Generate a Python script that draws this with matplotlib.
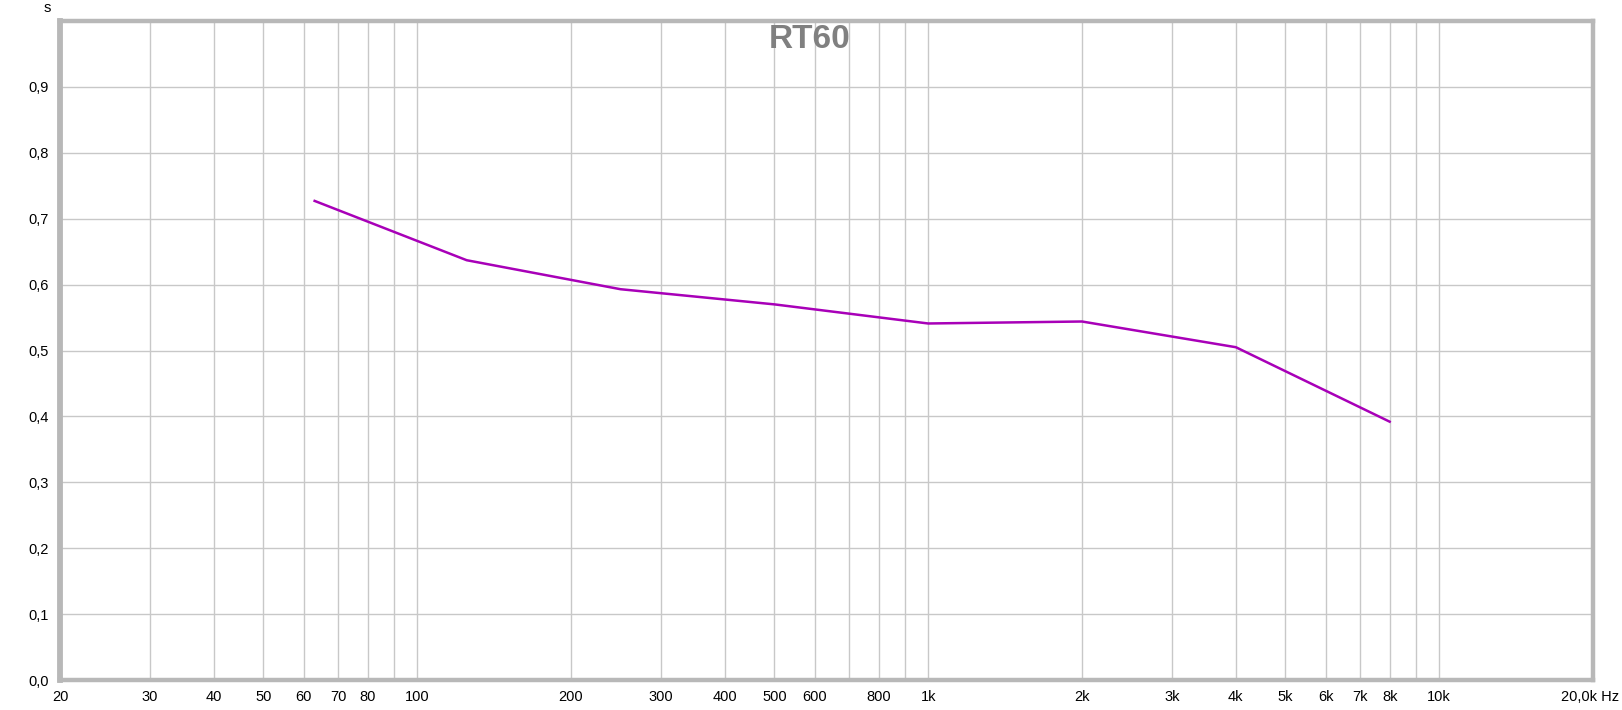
import matplotlib
matplotlib.use("Agg")
import matplotlib.pyplot as plt

plt.rcParams['font.family'] = ['Liberation Sans', 'DejaVu Sans']

freqs = [63, 125, 250, 500, 1000, 2000, 4000, 8000]
rt60 = [0.727, 0.637, 0.593, 0.570, 0.541, 0.544, 0.505, 0.392]

grid_freqs = [30, 40, 50, 60, 70, 80, 90, 100, 200, 300, 400, 500, 600, 700, 800, 900,
              1000, 2000, 3000, 4000, 5000, 6000, 7000, 8000, 9000, 10000]
label_freqs = [20, 30, 40, 50, 60, 70, 80, 100, 200, 300, 400, 500, 600, 800,
               1000, 2000, 3000, 4000, 5000, 6000, 7000, 8000, 10000]
label_texts = ["20", "30", "40", "50", "60", "70", "80", "100", "200", "300", "400", "500",
               "600", "800", "1k", "2k", "3k", "4k", "5k", "6k", "7k", "8k", "10k"]
y_ticks = [0.0, 0.1, 0.2, 0.3, 0.4, 0.5, 0.6, 0.7, 0.8, 0.9]
y_labels = ["0,0", "0,1", "0,2", "0,3", "0,4", "0,5", "0,6", "0,7", "0,8", "0,9"]

W, H = 1622, 710
fig = plt.figure(figsize=(W / 100, H / 100), dpi=100)
ax = fig.add_axes([60 / W, (H - 680) / H, (1593 - 60) / W, (680 - 21) / H])

ax.set_xscale('log')
ax.set_xlim(20, 20000)
ax.set_ylim(0, 1.0)

for f in grid_freqs:
    ax.axvline(f, color='#c8c8c8', lw=1.0, zorder=1)
for y in y_ticks[1:]:
    ax.axhline(y, color='#c8c8c8', lw=1.0, zorder=1)

ax.plot(freqs, rt60, color='#a800b8', lw=1.8, zorder=3, solid_joinstyle='round')

ax.set_xticks(label_freqs)
ax.set_xticklabels(label_texts)
ax.minorticks_off()
ax.set_yticks(y_ticks)
ax.set_yticklabels(y_labels)
ax.tick_params(axis='both', length=0, labelsize=10.5, colors='#000000')
ax.tick_params(axis='x', pad=7)
ax.tick_params(axis='y', pad=8)

for name, s in ax.spines.items():
    s.set_color('#b8b8b8')
    s.set_linewidth(4.2 if name == 'left' else 3.2)

fig.text(810 / W, 1 - 39 / H, "RT60", ha='center', va='center',
         fontsize=24, fontweight='bold', color='#808080', zorder=4)

fig.text(47 / W, 1 - 8 / H, "s", ha='center', va='center', fontsize=10.5)
fig.text(1619 / W, 1 - 697 / H, "20,0k Hz", ha='right', va='center', fontsize=10.5)

fig.savefig("out.png", dpi=100, facecolor='white')
